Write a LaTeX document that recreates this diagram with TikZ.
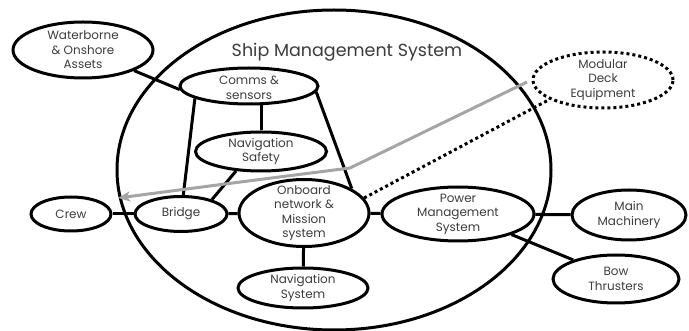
\documentclass[tikz,border=0pt]{standalone}
\usepackage{fontspec}
\setmainfont{Poppins}
\usetikzlibrary{shapes.geometric,arrows.meta}
\definecolor{arrowgray}{RGB}{165,165,165}
\definecolor{txt}{RGB}{60,60,60}
\begin{document}
\begin{tikzpicture}[x=1pt,y=-1pt,
  ell/.style={ellipse, draw, line width=3pt, inner sep=0pt},
  lbl/.style={font=\fontsize{12}{14.5}\selectfont, text=txt, align=center, inner sep=0pt},
  conn/.style={line width=3pt},
  dotline/.style={line width=3pt, dash pattern=on 3pt off 3pt},
  greyarrow/.style={line width=3pt, draw=arrowgray, -{Stealth[length=12pt,width=10pt,inset=3pt]}},
]
\useasboundingbox (0,0) rectangle (689,331);
% outer system ellipse
\node[ell, minimum width=434pt, minimum height=320pt] (sms) at (334,170) {};
\node[text=txt, font=\fontsize{17.5}{20}\selectfont, inner sep=0pt] (title) at (347,52) {Ship Management System};

% nodes
\node[ell, minimum width=140pt, minimum height=56pt, label={[lbl]center:Waterborne\\\& Onshore\\Assets}] (water) at (83,50) {};
\node[ell, minimum width=138pt, minimum height=36pt, label={[lbl,yshift=-2pt]center:Comms \&\\sensors}] (comms) at (249,86) {};
\node[ell, minimum width=131pt, minimum height=39pt, label={[lbl]center:Navigation\\Safety}] (navsafe) at (261,151.5) {};
\node[ell, minimum width=80pt, minimum height=34pt, label={[lbl]center:Crew}] (crew) at (71,214) {};
\node[ell, minimum width=92pt, minimum height=35pt, label={[lbl]center:Bridge}] (bridge) at (181,214) {};
\node[ell, minimum width=130pt, minimum height=67pt, label={[lbl]center:Onboard\\network \&\\Mission\\system}] (onboard) at (304,213) {};
\node[ell, minimum width=130pt, minimum height=40pt, label={[lbl]center:Navigation\\System}] (navsys) at (303,288) {};
\node[ell, minimum width=152pt, minimum height=54pt, label={[lbl]center:Power\\Management\\System}] (power) at (458,214) {};
\node[ell, minimum width=114pt, minimum height=50pt, label={[lbl]center:Main\\Machinery}] (main) at (629,215) {};
\node[ell, minimum width=126pt, minimum height=48pt, label={[lbl]center:Bow\\Thrusters}] (bow) at (616,279) {};
\node[ell, dash pattern=on 3pt off 3pt, minimum width=140pt, minimum height=56pt, label={[lbl]center:Modular\\Deck\\Equipment}] (modular) at (603,80) {};

% connectors
\draw[conn] (water.338) -- (comms.183);
\draw[conn] (comms.193) -- (bridge.83);
\draw[conn] (navsafe.north) -- (navsafe.north |- comms.south);
\draw[conn] (comms.355) -- (onboard.27);
\draw[conn] (navsafe.218) -- (bridge.25);
\draw[conn] (crew) -- (bridge);
\draw[conn] (bridge) -- (onboard);
\draw[conn] (onboard) -- (navsys);
\draw[conn] (onboard) -- (power);
\draw[conn] (power) -- (main);
\draw[conn] (power.339) -- (bow.156);
\draw[dotline] (onboard.14) -- (modular.200);

% grey arrow
\coordinate (gs) at (527,82);
\coordinate (gk) at (350,168);
\coordinate (ge) at (118,198);
\draw[greyarrow] (gs) -- (gk) .. controls (240,182) .. (ge);
\end{tikzpicture}
\end{document}
